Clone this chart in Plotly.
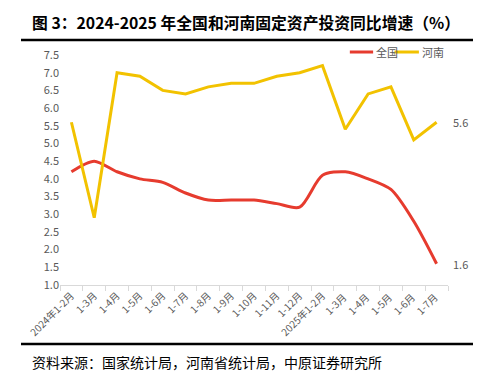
import plotly.graph_objects as go

categories = ["2024年1-2月", "1-3月", "1-4月", "1-5月", "1-6月", "1-7月", "1-8月", "1-9月",
              "1-10月", "1-11月", "1-12月", "2025年1-2月", "1-3月 ", "1-4月 ", "1-5月 ", "1-6月 ", "1-7月 "]
national = [4.2, 4.5, 4.2, 4.0, 3.9, 3.6, 3.4, 3.4, 3.4, 3.3, 3.2, 4.1, 4.2, 4.0, 3.7, 2.8, 1.6]
henan = [5.6, 2.9, 7.0, 6.9, 6.5, 6.4, 6.6, 6.7, 6.7, 6.9, 7.0, 7.2, 5.4, 6.4, 6.6, 5.1, 5.6]
y_ticks = [1.0, 1.5, 2.0, 2.5, 3.0, 3.5, 4.0, 4.5, 5.0, 5.5, 6.0, 6.5, 7.0, 7.5]
series_names = ["全国", "河南"]

RED = "#E63B2E"
YEL = "#F2C200"
FONT = "Noto Sans CJK SC"

fig = go.Figure()
fig.add_trace(go.Scatter(x=categories, y=national, name=series_names[0], mode="lines",
                         line=dict(color=RED, width=3, shape="spline", smoothing=0.8)))
fig.add_trace(go.Scatter(x=categories, y=henan, name=series_names[1], mode="lines",
                         line=dict(color=YEL, width=3)))

fig.add_annotation(x=categories[-1], y=henan[-1], text=f"{henan[-1]:.1f}", showarrow=False,
                   xanchor="left", xshift=14, font=dict(size=11, color="#595959", family=FONT))
fig.add_annotation(x=categories[-1], y=national[-1], text=f"{national[-1]:.1f}", showarrow=False,
                   xanchor="left", xshift=14, font=dict(size=11, color="#595959", family=FONT))

# manual compact legend
leg_y = 1.013
for (x0, x1, tx), name, col in zip([(0.747, 0.807, 0.810), (0.862, 0.925, 0.928)], series_names, [RED, YEL]):
    fig.add_shape(type="line", xref="paper", yref="paper", x0=x0, x1=x1, y0=leg_y, y1=leg_y,
                  line=dict(color=col, width=3))
    fig.add_annotation(xref="paper", yref="paper", x=tx, y=leg_y, xanchor="left", yanchor="middle",
                       text=name, showarrow=False, font=dict(size=11, color="#595959", family=FONT))

fig.add_annotation(xref="paper", yref="paper", x=-0.077, y=1.143, xanchor="left", yanchor="middle",
                   text="<b>图 3：2024-2025 年全国和河南固定资产投资同比增速（%）</b>", showarrow=False,
                   font=dict(size=15.8, color="#000000", family=FONT))
fig.add_annotation(xref="paper", yref="paper", x=-0.077, y=-0.335, xanchor="left", yanchor="middle",
                   text="资料来源：国家统计局，河南省统计局，中原证券研究所", showarrow=False,
                   font=dict(size=14, color="#000000", family=FONT))

fig.add_shape(type="line", xref="paper", yref="paper", x0=-0.1005, x1=1.077, y0=1.0652, y1=1.0652,
              line=dict(color="#000000", width=2.5))
fig.add_shape(type="line", xref="paper", yref="paper", x0=-0.1005, x1=1.077, y0=-0.2565, y1=-0.2565,
              line=dict(color="#000000", width=2.5))

fig.update_layout(
    width=481, height=374,
    margin=dict(l=52, r=41, t=47, b=97, autoexpand=False),
    paper_bgcolor="white", plot_bgcolor="white",
    font=dict(family=FONT, color="#595959"),
    showlegend=False,
    xaxis=dict(type="category", range=[-0.5, len(categories) - 0.5], showgrid=False, showline=True,
               linecolor="#D9D9D9", linewidth=1,
               ticks="outside", tickson="boundaries", ticklen=5, tickcolor="#D9D9D9",
               tickangle=-45, tickfont=dict(size=10, color="#595959", family=FONT),
               zeroline=False),
    yaxis=dict(range=[1.0, 7.5], tickvals=y_ticks, tickformat=".1f", showgrid=False,
               showline=False, zeroline=False, ticks="", tickfont=dict(size=11, color="#595959", family=FONT)),
)

fig.write_html("out.html")
